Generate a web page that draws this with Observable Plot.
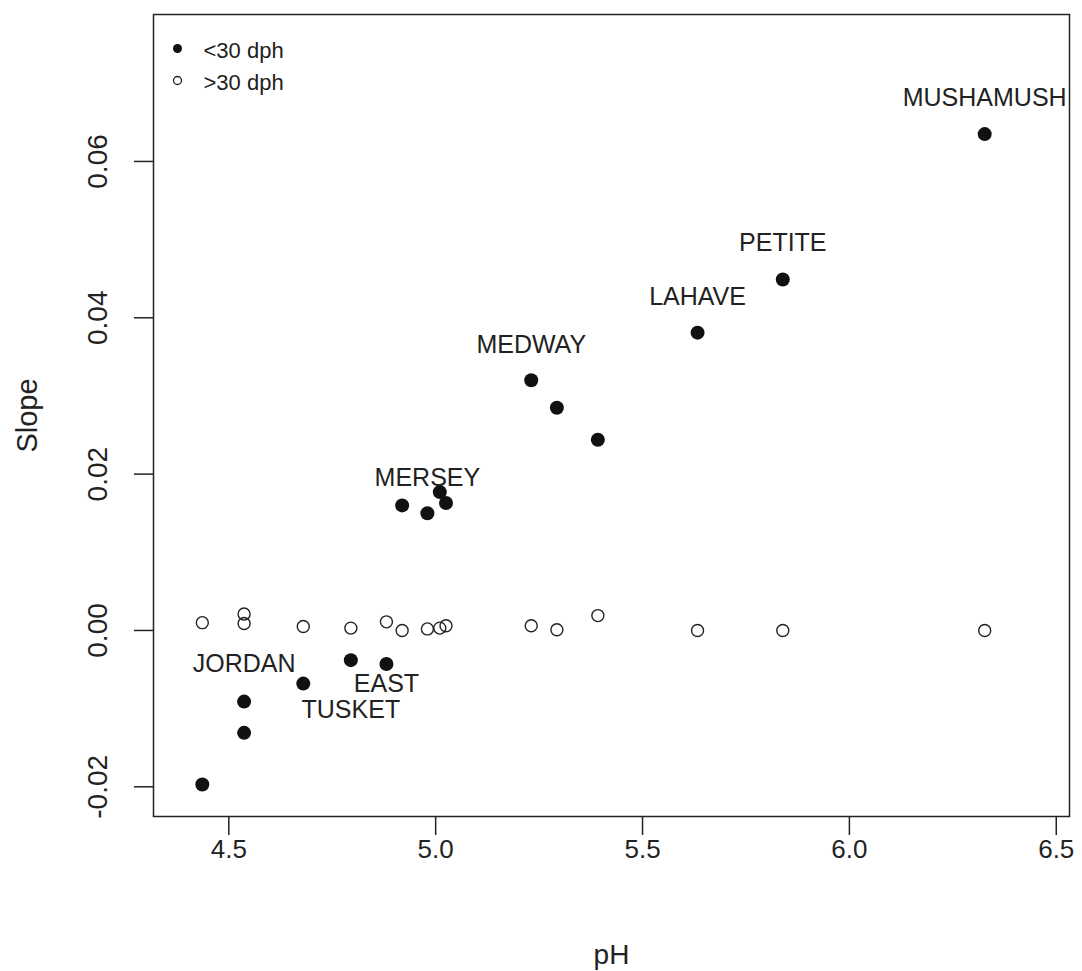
<!DOCTYPE html>
<html>
<head>
<meta charset="utf-8">
<script src="https://cdn.jsdelivr.net/npm/d3@7"></script>
<script src="https://cdn.jsdelivr.net/npm/@observablehq/plot@0.6"></script>
<style>
  html, body { margin: 0; padding: 0; background: #fff; }
</style>
</head>
<body>
<div id="chart"></div>
<script>
// pH of each station (shared by both series)
const pH = [4.436, 4.537, 4.537, 4.680, 4.795, 4.881, 4.919, 4.980, 5.010, 5.025, 5.231, 5.293, 5.392, 5.633, 5.839, 6.327];
// slope for <30 dph (filled) and >30 dph (open)
const slopeUnder30 = [-0.0197, -0.0131, -0.0091, -0.0068, -0.0038, -0.0043, 0.0160, 0.0150, 0.0177, 0.0163, 0.0320, 0.0285, 0.0244, 0.0381, 0.0449, 0.0635];
const slopeOver30  = [0.0010, 0.0009, 0.0021, 0.0005, 0.0003, 0.0011, 0.0000, 0.0002, 0.0003, 0.0006, 0.0006, 0.0001, 0.0019, 0.0000, 0.0000, 0.0000];

// river labels (anchor in data coordinates)
const labelNames = ["MUSHAMUSH", "PETITE", "LAHAVE", "MEDWAY", "MERSEY", "JORDAN", "EAST", "TUSKET"];
const labelPH    = [6.327, 5.839, 5.633, 5.231, 4.980, 4.537, 4.881, 4.795];
const labelSlope = [0.0681, 0.0496, 0.0426, 0.0365, 0.0195, -0.0043, -0.0068, -0.0102];

const xTicks = [4.5, 5.0, 5.5, 6.0, 6.5];
const yTicks = [-0.02, 0.00, 0.02, 0.04, 0.06];
const legendLabels = ["<30 dph", ">30 dph"];
const xTitle = "pH";
const yTitle = "Slope";

const under = pH.map((p, i) => ({pH: p, slope: slopeUnder30[i]}));
const over = pH.map((p, i) => ({pH: p, slope: slopeOver30[i]}));
const labels = labelNames.map((n, i) => ({name: n, pH: labelPH[i], slope: labelSlope[i]}));

const ink = "#222";
const font = "'Liberation Sans', Arial, sans-serif";
const hyphenLocale = d3.formatLocale({decimal: ".", thousands: ",", grouping: [3], currency: ["$", ""], minus: "-"});

const chart = Plot.plot({
  width: 1082,
  height: 971,
  marginLeft: 153,
  marginRight: 13,
  marginTop: 14,
  marginBottom: 155,
  style: {fontFamily: font, fontSize: "24px", color: ink, background: "#fff", overflow: "visible"},
  x: {domain: [4.318, 6.532]},
  y: {domain: [-0.0238, 0.0788]},
  marks: [
    Plot.frame({stroke: ink, strokeWidth: 1.5}),
    Plot.axisX({ticks: xTicks, tickSize: 19, tickPadding: 4, tickFormat: hyphenLocale.format(".1f"), label: null, fontSize: 26, strokeWidth: 1.5}),
    Plot.axisY({ticks: yTicks, tickSize: 19, tickPadding: 28, tickRotate: -90, tickFormat: hyphenLocale.format(".2f"), label: null, fontSize: 28, strokeWidth: 1.5}),
    Plot.text([xTitle], {frameAnchor: "bottom", dy: 139, lineAnchor: "middle", textAnchor: "middle", fontSize: 28, fill: ink}),
    Plot.text([yTitle], {frameAnchor: "left", dx: -126, rotate: -90, lineAnchor: "middle", textAnchor: "middle", fontSize: 29, fill: ink}),
    Plot.dot(over, {x: "pH", y: "slope", r: 6, stroke: ink, strokeWidth: 1.4, fill: "none"}),
    Plot.dot(under, {x: "pH", y: "slope", r: 7, fill: "#111", stroke: "none"}),
    Plot.text(labels, {x: "pH", y: "slope", text: "name", fontSize: 25, fill: ink}),
    // legend
    Plot.dot([legendLabels[0]], {frameAnchor: "top-left", dx: 24, dy: 34, r: 4.5, fill: "#111", stroke: "none"}),
    Plot.dot([legendLabels[1]], {frameAnchor: "top-left", dx: 24, dy: 66, r: 4, fill: "none", stroke: ink, strokeWidth: 1.3}),
    Plot.text([legendLabels[0]], {frameAnchor: "top-left", dx: 50, dy: 36, text: d => d, textAnchor: "start", lineAnchor: "middle", fontSize: 22, letterSpacing: 1.6, fill: ink}),
    Plot.text([legendLabels[1]], {frameAnchor: "top-left", dx: 50, dy: 68, text: d => d, textAnchor: "start", lineAnchor: "middle", fontSize: 22, letterSpacing: 1.6, fill: ink})
  ]
});
document.getElementById("chart").appendChild(chart);
</script>
</body>
</html>
